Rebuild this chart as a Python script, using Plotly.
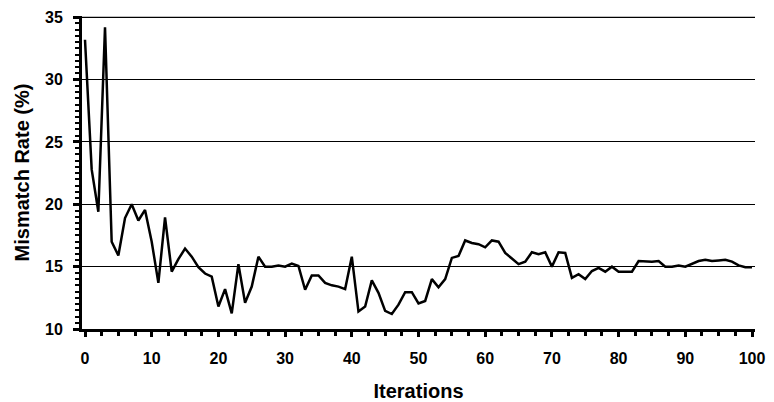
import plotly.graph_objects as go

iterations = list(range(101))
mismatch_rate = [
    33.2, 22.8, 19.4, 34.2, 17.0, 15.9, 18.9, 20.0, 18.7, 19.55,
    17.0, 13.7, 18.95, 14.6, 15.6, 16.45, 15.8, 14.95, 14.45, 14.2,
    11.8, 13.2, 11.25, 15.2, 12.1, 13.4, 15.8, 15.0, 15.0, 15.1,
    15.0, 15.25, 15.05, 13.15, 14.3, 14.3, 13.7, 13.5, 13.4, 13.2,
    15.8, 11.4, 11.8, 13.9, 12.9, 11.45, 11.2, 11.95, 12.95, 12.95,
    12.05, 12.25, 14.0, 13.35, 14.0, 15.7, 15.85, 17.1, 16.9, 16.8,
    16.55, 17.1, 17.0, 16.1, 15.65, 15.2, 15.4, 16.15, 16.0, 16.15,
    15.0, 16.15, 16.1, 14.1, 14.4, 14.0, 14.65, 14.9, 14.6, 15.0,
    14.6, 14.6, 14.6, 15.45, 15.4, 15.4, 15.45, 15.0, 15.0, 15.1,
    15.0, 15.25, 15.45, 15.55, 15.45, 15.5, 15.55, 15.4, 15.1, 14.95,
    14.95,
]
y_max = 35
y_min = 10
x_title = "Iterations"
y_title = "Mismatch Rate (%)"

font_family = "Liberation Sans, Arial, sans-serif"

fig = go.Figure()
fig.add_trace(go.Scatter(
    x=iterations, y=mismatch_rate, mode="lines",
    line=dict(color="black", width=2.5),
    showlegend=False,
))

# top gridline (plotly skips the grid line at the range end)
fig.add_hline(y=y_max, line=dict(color="black", width=1), layer="below")

fig.update_layout(
    width=774, height=402,
    margin=dict(l=74, r=27, t=8, b=81),
    paper_bgcolor="white", plot_bgcolor="white",
    font=dict(family=font_family, color="black"),
)

fig.update_xaxes(
    range=[-0.45, 100.45],
    tickmode="linear", tick0=0, dtick=10,
    ticks="outside", ticklen=5, tickwidth=3, tickcolor="black",
    minor=dict(tickmode="linear", tick0=0, dtick=2.5, ticks="outside",
               ticklen=4, tickwidth=2.5, tickcolor="black", showgrid=False),
    showline=True, linewidth=3, linecolor="black",
    showgrid=False, zeroline=False, automargin=False,
    ticklabeloverflow="allow",
    tickfont=dict(size=16, family=font_family, weight="bold"),
    ticklabelstandoff=8,
    title=dict(text="<b>" + x_title + "</b>", font=dict(size=20, family=font_family), standoff=18),
)

fig.update_yaxes(
    range=[y_min, y_max + 0.1],
    tickmode="linear", tick0=y_min, dtick=5,
    ticks="outside", ticklen=6, tickwidth=3, tickcolor="black",
    minor=dict(tickmode="linear", tick0=y_min, dtick=0.5, ticks="outside",
               ticklen=4, tickwidth=2, tickcolor="black", showgrid=False),
    showline=True, linewidth=3, linecolor="black",
    showgrid=True, gridcolor="black", gridwidth=1,
    zeroline=False, automargin=False,
    ticklabeloverflow="allow",
    tickfont=dict(size=16, family=font_family, weight="bold"),
    ticklabelstandoff=7,
    title=dict(text="<b>" + y_title + "</b>", font=dict(size=20, family=font_family), standoff=11),
)

fig.write_html("out.html")
